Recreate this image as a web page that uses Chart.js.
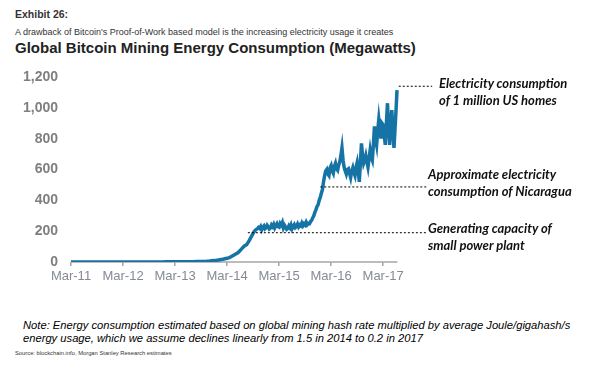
<!DOCTYPE html>
<html>
<head>
<meta charset="utf-8">
<script src="https://cdn.jsdelivr.net/npm/chart.js@4.4.1/dist/chart.umd.min.js"></script>
<style>
  body { margin: 0; width: 589px; height: 369px; background: #fff; overflow: hidden; position: relative; font-family: "Liberation Sans", Arial, sans-serif; }
  .t { position: absolute; white-space: nowrap; }
  #exhibit { left: 15px; top: 8px; font-size: 10.5px; font-weight: bold; color: #333; }
  #sub { left: 15px; top: 27px; font-size: 9px; color: #333; }
  #title { left: 15px; top: 39px; font-size: 15px; font-weight: bold; color: #222; }
  .ann { font-family: Lato, "Open Sans", sans-serif; font-weight: bold; font-style: italic; font-size: 13px; color: #111; line-height: 17px; }
  #note { left: 23px; top: 319px; font-size: 11.2px; font-style: italic; color: #000; line-height: 12.5px; }
  #source { left: 15px; top: 350px; font-size: 5.8px; color: #333; }
  #wrap { position: absolute; left: 0; top: 55px; width: 589px; height: 240px; }
</style>
</head>
<body>
<div class="t" id="exhibit">Exhibit 26:</div>
<div class="t" id="sub">A drawback of Bitcoin's Proof-of-Work based model is the increasing electricity usage it creates</div>
<div class="t" id="title">Global Bitcoin Mining Energy Consumption (Megawatts)</div>
<div id="wrap"><canvas id="energy-chart" width="589" height="240"></canvas></div>
<div class="t ann" style="left:439px; top:75px;">Electricity consumption<br>of 1 million US homes</div>
<div class="t ann" style="left:428px; top:166px;">Approximate electricity<br>consumption of Nicaragua</div>
<div class="t ann" style="left:428px; top:220px;">Generating capacity of<br>small power plant</div>
<div class="t" id="note">Note: Energy consumption estimated based on global mining hash rate multiplied by average Joule/gigahash/s<br>energy usage, which we assume declines linearly from 1.5 in 2014 to 0.2 in 2017</div>
<div class="t" id="source">Source: blockchain.info, Morgan Stanley Research estimates</div>

<script>
// months counted from Mar-11
const monthIndex = [
  0, 1, 2, 3, 4, 5, 6, 7, 8, 9, 10, 11, 12, 13, 14, 15, 16, 17, 18, 19, 20, 21, 22, 23, 24, 25, 26, 27, 28, 29, 30, 31, 32, 33, 34, 35,
  36, 36.5, 37, 37.5, 38, 38.5, 39, 39.5, 40, 40.5, 41, 41.5,
  42, 42.25, 42.5, 42.75, 43, 43.25, 43.5, 43.75, 44, 44.25, 44.5, 44.75, 45, 45.25, 45.5, 45.75,
  46, 46.25, 46.5, 46.75, 47, 47.25, 47.5, 47.75, 48, 48.25, 48.5, 48.75, 49, 49.25, 49.5, 49.75,
  50, 50.25, 50.5, 50.75, 51, 51.25, 51.5, 51.75, 52, 52.25, 52.5, 52.75, 53, 53.25, 53.5, 53.75,
  54, 54.25, 54.5, 54.75, 55, 55.25, 55.5, 55.75, 56, 56.25, 56.5, 56.75, 57, 57.25, 57.5, 57.75,
  58, 58.25, 58.5, 58.75, 59, 59.25, 59.5, 59.75, 60, 60.25, 60.5, 60.75, 61, 61.25, 61.5, 61.75,
  62, 62.25, 62.5, 62.75, 63, 63.25, 63.5, 63.75, 64, 64.25, 64.5, 64.75, 65, 65.25, 65.5, 65.75,
  66, 66.25, 66.5, 66.75, 67, 67.25, 67.5, 67.75, 68, 68.25, 68.5, 68.75, 69, 69.25, 69.5, 69.75,
  70, 70.25, 70.5, 70.75, 71, 71.25, 71.5, 71.75, 72, 72.25, 72.5, 72.75, 73, 73.25, 73.5, 73.75,
  74, 74.25, 74.5, 74.75, 75, 75.2
];
const energyMW = [
  0, 0, 0, 0, 0, 0, 0, 0, 0, 0, 0, 0, 0, 0, 0, 0, 0, 0, 0, 0, 0, 0, 1, 1, 1, 1, 1, 2, 2, 3, 3, 4, 6, 9, 13, 18,
  24, 29, 36, 44, 52, 60, 74, 90, 104, 112, 134, 160,
  186, 198, 206, 212, 216, 224, 218, 230, 210, 226, 234, 216, 222, 238, 228, 214,
  220, 240, 230, 244, 222, 236, 248, 230, 226, 250, 240, 256, 222, 238, 226, 212,
  218, 234, 222, 240, 216, 230, 242, 224, 232, 246, 228, 240, 234, 252, 236, 248,
  240, 258, 242, 250, 248, 262, 270, 286, 300, 322, 340, 360, 372, 400, 420, 446,
  470, 520, 560, 590, 600, 570, 560, 610, 625, 590, 575, 620, 640, 605, 595, 630,
  650, 690, 740, 660, 615, 590, 570, 600, 605, 575, 548, 590, 612, 580, 560, 615,
  645, 590, 520, 640, 770, 690, 640, 660, 690, 650, 615, 670, 725, 680, 660, 760,
  880, 800, 760, 850, 925, 860, 800, 900, 890, 820, 760, 900, 1030, 880, 760, 900,
  985, 840, 740, 870, 1000, 1115
];

const tickMonths = [0, 12, 24, 36, 48, 60, 72];
const tickLabels = ["Mar-11", "Mar-12", "Mar-13", "Mar-14", "Mar-15", "Mar-16", "Mar-17"];

// reference levels (MW) and the month span of their dotted lines
const refLevels = [1140, 487, 190];
const refFrom = [75.6, 57.5, 40.8];
const refTo = [83.3, 82.2, 82.2];

const lastMonth = 75.3;

const axisLine = {
  id: "axisLine",
  beforeDatasetsDraw(chart) {
    const x = chart.scales.x;
    const c = chart.ctx;
    const y = chart.chartArea.bottom;
    c.save();
    c.strokeStyle = "#a6a6a6";
    c.lineWidth = 1.5;
    c.beginPath();
    c.moveTo(x.getPixelForValue(0), y);
    c.lineTo(x.getPixelForValue(lastMonth), y);
    c.stroke();
    c.restore();
  }
};

const refSets = refLevels.map((lvl, i) => ({
  data: [{ x: refFrom[i], y: lvl }, { x: refTo[i], y: lvl }],
  borderColor: "#000",
  borderWidth: 1,
  borderDash: [2, 2],
  pointRadius: 0,
  order: 0
}));

new Chart(document.getElementById("energy-chart"), {
  type: "line",
  data: {
    datasets: [
      ...refSets,
      {
        data: monthIndex.map((m, i) => ({ x: m, y: energyMW[i] })),
        borderColor: "#1673a6",
        borderWidth: 3.5,
        pointRadius: 0,
        tension: 0,
        order: 1
      }
    ]
  },
  options: {
    responsive: false,
    animation: false,
    devicePixelRatio: 1,
    layout: { padding: { top: 22, right: 156, left: 0, bottom: 0 } },
    plugins: { legend: { display: false }, tooltip: { enabled: false } },
    scales: {
      x: {
        type: "linear",
        min: 0,
        max: 83.5,
        afterBuildTicks: (s) => { s.ticks = tickMonths.map(v => ({ value: v })); },
        afterFit: (s) => { s.height = 33; },
        border: { display: false },
        grid: { drawOnChartArea: false, drawTicks: true, tickLength: 4, color: "#a6a6a6", lineWidth: 1.5 },
        ticks: {
          autoSkip: false,
          maxRotation: 0,
          padding: 3,
          color: "#858a94",
          font: { family: "Liberation Sans", size: 13 },
          callback: (v, i) => tickLabels[i]
        }
      },
      y: {
        min: 0,
        max: 1200,
        afterFit: (s) => { s.width = 71; },
        border: { display: false },
        grid: { display: false, drawTicks: false },
        ticks: {
          stepSize: 200,
          padding: 13,
          color: "#7f7f7f",
          font: { family: "Liberation Sans", size: 14, weight: "bold" },
          callback: (v) => v.toLocaleString("en-US")
        }
      }
    }
  },
  plugins: [axisLine]
});
</script>
</body>
</html>
